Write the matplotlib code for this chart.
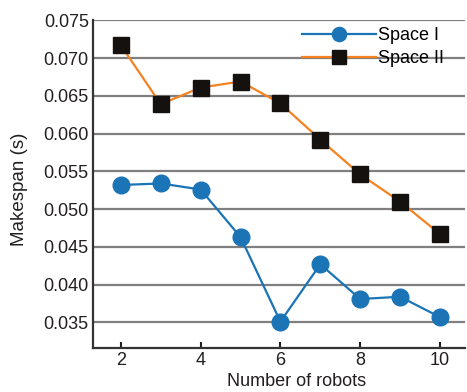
import matplotlib.pyplot as plt

# === Data ===
robots = [2, 3, 4, 5, 6, 7, 8, 9, 10]
space_1 = [0.0532, 0.0534, 0.0526, 0.0463, 0.0351, 0.0427, 0.0381, 0.0384, 0.0357]
space_2 = [0.0717, 0.0639, 0.0661, 0.0669, 0.0640, 0.0592, 0.0546, 0.0510, 0.0467]
x_ticks = [2, 4, 6, 8, 10]
y_ticks = [0.035, 0.040, 0.045, 0.050, 0.055, 0.060, 0.065, 0.070, 0.075]

plt.rcParams['font.family'] = ['Liberation Sans', 'DejaVu Sans']

fig = plt.figure(figsize=(4.67, 3.92), dpi=100)
ax = fig.add_axes([0.199, 0.112, 0.797, 0.838])

# === Grid ===
ax.set_axisbelow(True)
ax.yaxis.grid(True, color='#7f7f7f', linewidth=1.6)

# === Series ===
ax.plot(robots, space_1, color='#1b74b6', linewidth=1.6, marker='o',
        markersize=12, markerfacecolor='#1b74b6', markeredgecolor='#1b74b6',
        label='Space I', zorder=3)
ax.plot(robots, space_2, color='#f58220', linewidth=1.6, marker='s',
        markersize=12, markerfacecolor='#15110e', markeredgecolor='#15110e',
        label='Space II', zorder=3)

# === Axes ===
ax.set_xlim(1.3, 10.63)
ax.set_ylim(0.0316, 0.0751)
ax.set_xticks(x_ticks)
ax.set_yticks(y_ticks)
ax.set_yticklabels([f"{v:.3f}" for v in y_ticks])
ax.tick_params(axis='x', direction='in', length=4, width=1.5, labelsize=13,
               colors='#231f20', pad=3)
ax.tick_params(axis='y', length=0, labelsize=13, colors='#231f20', pad=3)

for side in ['top', 'right']:
    ax.spines[side].set_visible(False)
for side in ['left', 'bottom']:
    ax.spines[side].set_color('#333333')
    ax.spines[side].set_linewidth(1.6)

ax.set_xlabel("Number of robots", fontsize=13, color='#231f20')
ax.xaxis.set_label_coords(0.546, -0.077)
ax.set_ylabel("Makespan (s)", fontsize=13.5, color='#231f20')
ax.yaxis.set_label_coords(-0.175, 0.482)

leg = ax.legend(loc='upper right', bbox_to_anchor=(0.972, 1.01), frameon=False,
                fontsize=13, handlelength=4.1, handletextpad=0.1,
                labelspacing=0.35, borderaxespad=0.2, markerscale=0.85)

fig.savefig("out.png", dpi=100)
